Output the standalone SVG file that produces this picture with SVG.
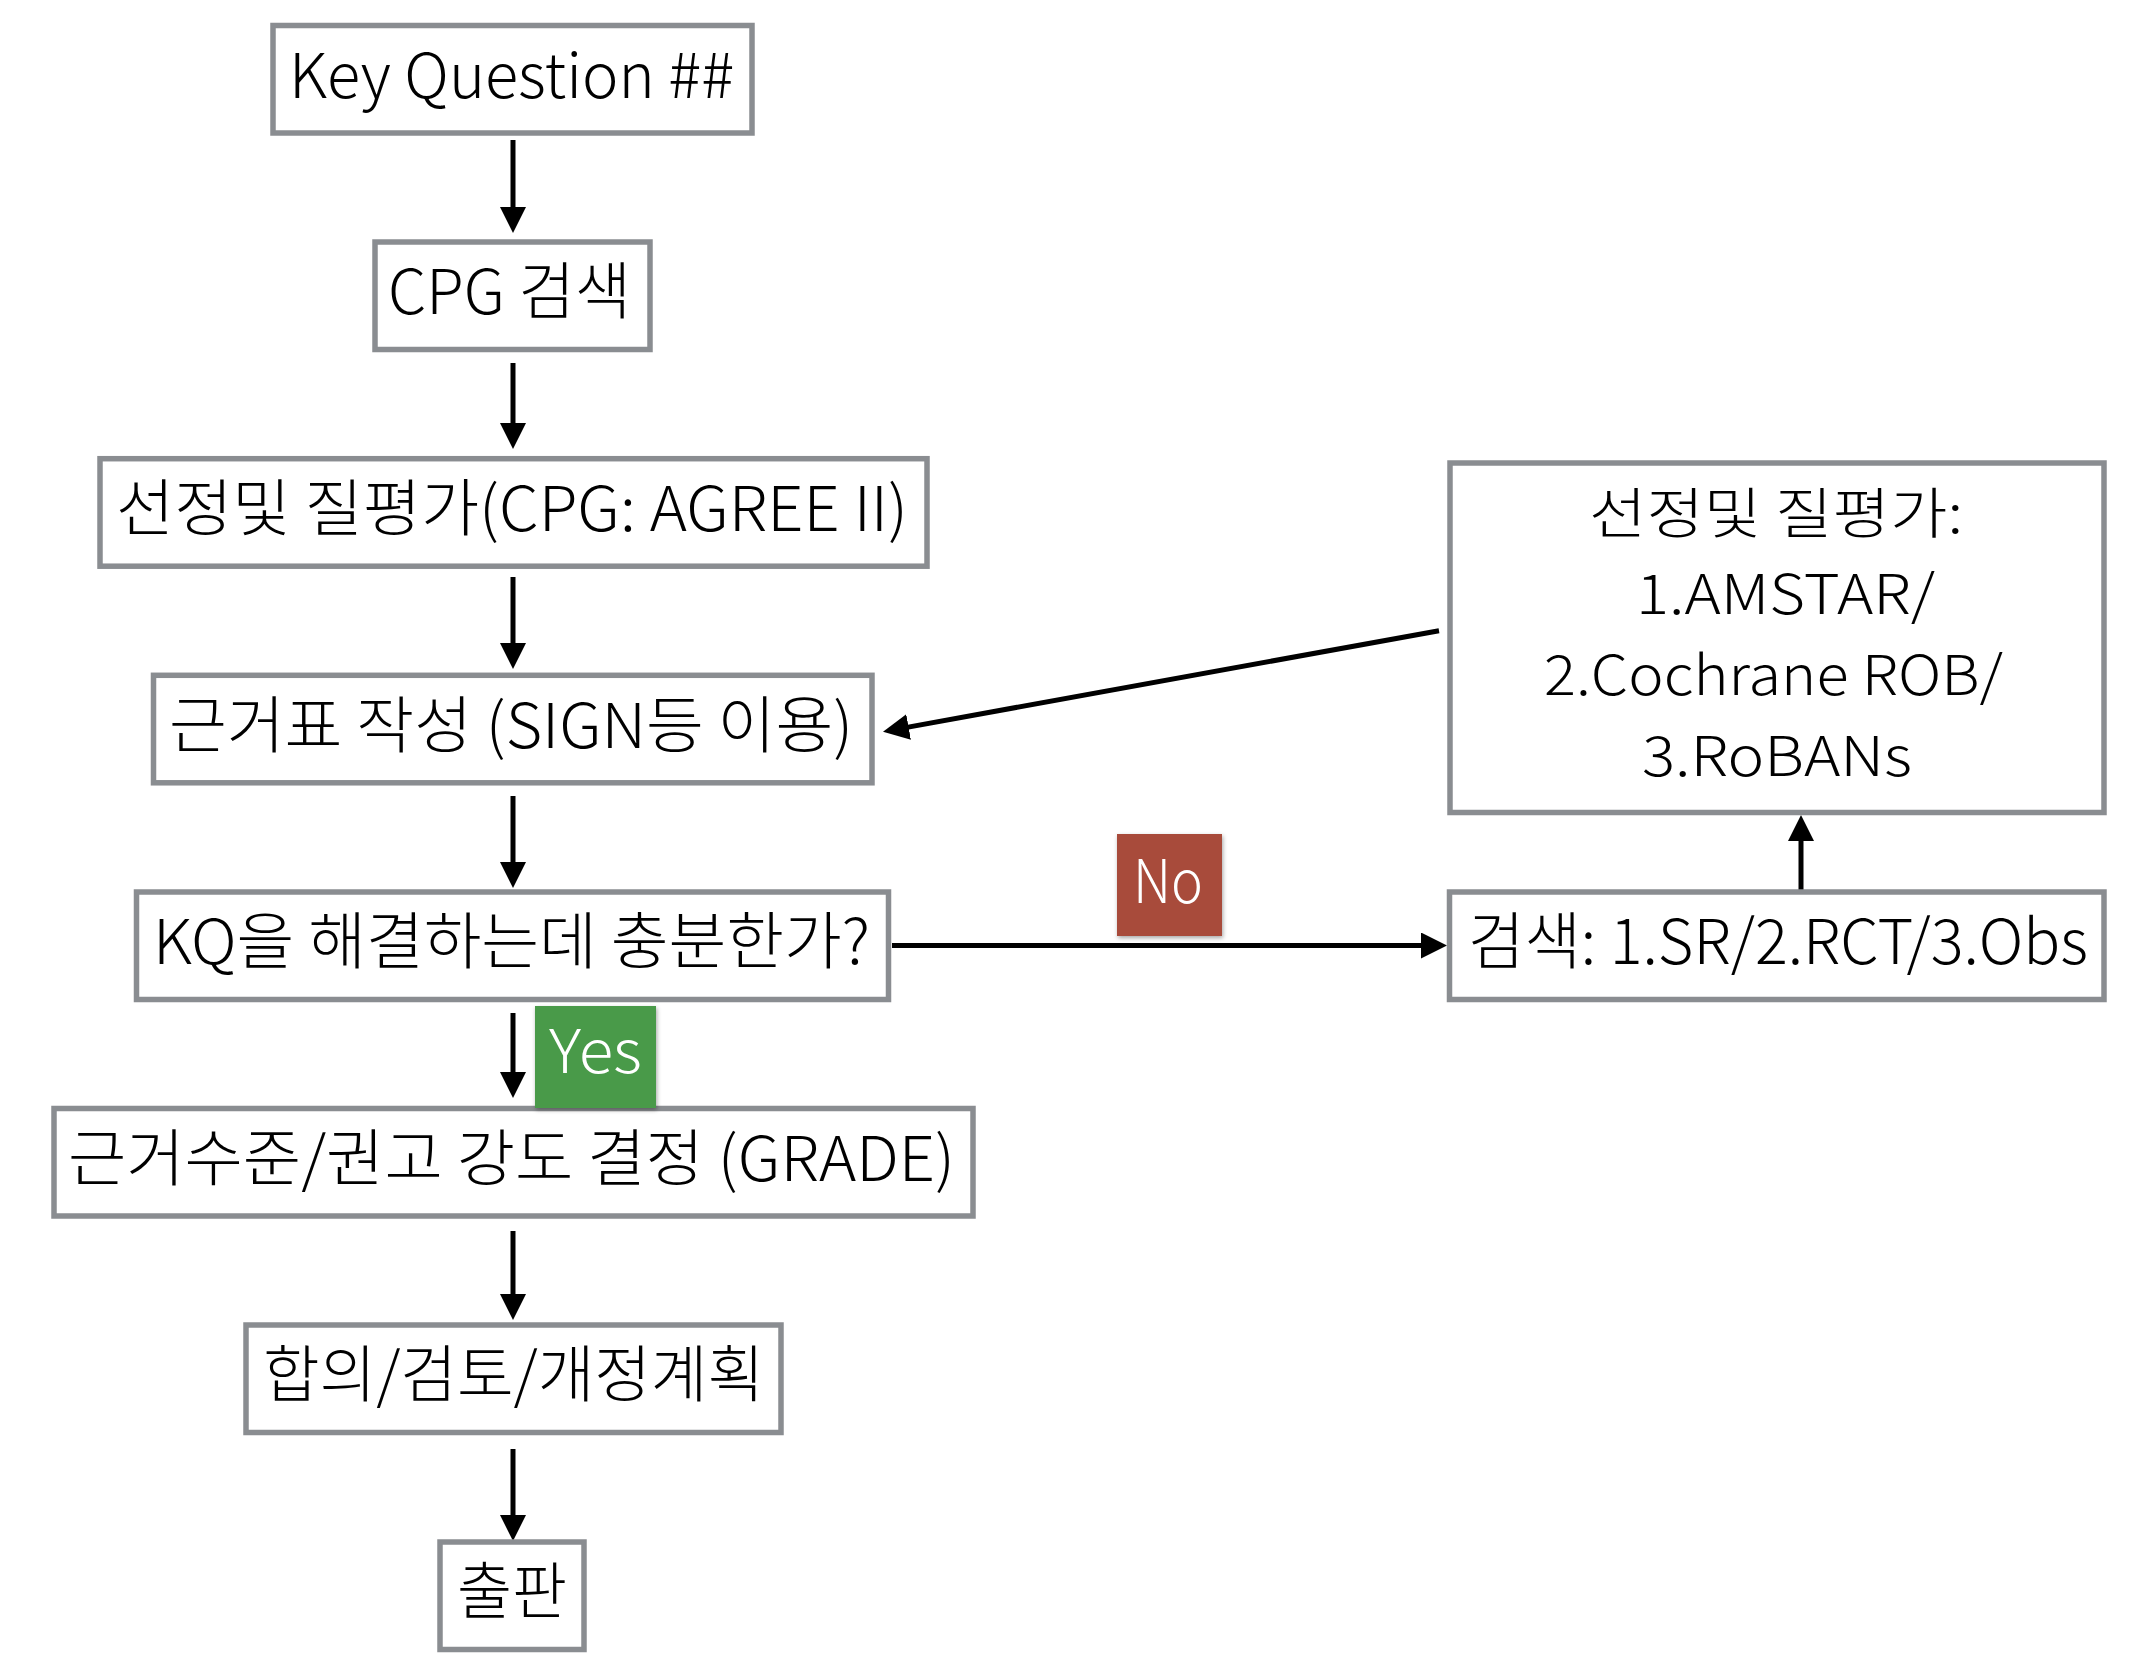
<svg xmlns="http://www.w3.org/2000/svg" width="2132" height="1670" viewBox="0 0 2132 1670">
<style>
.box{fill:#ffffff;stroke:#8a8d91;stroke-width:5.5}
.t{font-family:"Noto Sans CJK KR","Noto Sans",sans-serif;font-size:62px;font-weight:300;fill:#000000;text-anchor:start}
.t2{font-size:55px}
.lbl{font-family:"Noto Sans CJK KR","Noto Sans",sans-serif;font-size:60px;font-weight:300;fill:#ffffff}
.c{fill:none;stroke:#000000;stroke-width:5}
</style>
<defs>
<marker id="ah" viewBox="0 0 26 26" markerUnits="userSpaceOnUse" markerWidth="26" markerHeight="26" refX="6" refY="13" orient="auto">
<path d="M0,0 L26,13 L0,26 z" fill="#000000"/>
</marker>
<filter id="sh" x="-10%" y="-10%" width="130%" height="130%">
<feDropShadow dx="1" dy="2" stdDeviation="2" flood-color="#000000" flood-opacity="0.35"/>
</filter>
</defs>
<rect x="0" y="0" width="2132" height="1670" fill="#ffffff"/>

<g id="connectors">
<line class="c" x1="513" y1="140" x2="513" y2="213" marker-end="url(#ah)"/>
<line class="c" x1="513" y1="363" x2="513" y2="429" marker-end="url(#ah)"/>
<line class="c" x1="513" y1="577" x2="513" y2="649" marker-end="url(#ah)"/>
<line class="c" x1="513" y1="796" x2="513" y2="868" marker-end="url(#ah)"/>
<line class="c" x1="513" y1="1013" x2="513" y2="1078" marker-end="url(#ah)"/>
<line class="c" x1="513" y1="1231" x2="513" y2="1300" marker-end="url(#ah)"/>
<line class="c" x1="513" y1="1449" x2="513" y2="1521" marker-end="url(#ah)"/>
<line class="c" x1="892" y1="945.5" x2="1427" y2="945.5" marker-end="url(#ah)"/>
<line class="c" x1="1801" y1="890" x2="1801" y2="835" marker-end="url(#ah)"/>
<line class="c" x1="1439" y1="630.7" x2="902.7" y2="728.1" marker-end="url(#ah)"/>
</g>

<g id="n1">
<rect class="box" x="273" y="25.5" width="479" height="107.5"/>
<text class="t" x="289" y="97.5" textLength="445" lengthAdjust="spacingAndGlyphs">Key Question ##</text>
</g>
<g id="n2">
<rect class="box" x="375" y="242" width="275" height="107.5"/>
<text class="t" x="388" y="314" textLength="243" lengthAdjust="spacingAndGlyphs">CPG 검색</text>
</g>
<g id="n3">
<rect class="box" x="100" y="458.7" width="827" height="107.5"/>
<text class="t" x="116" y="530.5" textLength="792" lengthAdjust="spacingAndGlyphs">선정및 질평가(CPG: AGREE II)</text>
</g>
<g id="n4">
<rect class="box" x="153.5" y="675.3" width="718.5" height="107.5"/>
<text class="t" x="169" y="747.5" textLength="684" lengthAdjust="spacingAndGlyphs">근거표 작성 (SIGN등 이용)</text>
</g>
<g id="n5">
<rect class="box" x="136.5" y="892" width="752" height="107.5"/>
<text class="t" x="153" y="964" textLength="717" lengthAdjust="spacingAndGlyphs">KQ을 해결하는데 충분한가?</text>
</g>
<g id="n6">
<rect class="box" x="54" y="1108.5" width="919" height="107.5"/>
<text class="t" x="68" y="1180.5" textLength="887" lengthAdjust="spacingAndGlyphs">근거수준/권고 강도 결정 (GRADE)</text>
</g>
<g id="n7">
<rect class="box" x="246" y="1325" width="535" height="107.5"/>
<text class="t" x="263" y="1397" textLength="501" lengthAdjust="spacingAndGlyphs">합의/검토/개정계획</text>
</g>
<g id="n8">
<rect class="box" x="440" y="1542" width="144" height="107.5"/>
<text class="t" x="457" y="1614" textLength="110" lengthAdjust="spacingAndGlyphs">출판</text>
</g>
<g id="n9">
<rect class="box" x="1450" y="463" width="654" height="349.5"/>
<text class="t t2" x="1589" y="533" textLength="374" lengthAdjust="spacingAndGlyphs">선정및 질평가:</text>
<text class="t t2" x="1636" y="614" textLength="299" lengthAdjust="spacingAndGlyphs">1.AMSTAR/</text>
<text class="t t2" x="1544" y="695" textLength="459" lengthAdjust="spacingAndGlyphs">2.Cochrane ROB/</text>
<text class="t t2" x="1642" y="776" textLength="270" lengthAdjust="spacingAndGlyphs">3.RoBANs</text>
</g>
<g id="n10">
<rect class="box" x="1449.5" y="892" width="654.5" height="107.5"/>
<text class="t" x="1468" y="964" textLength="620" lengthAdjust="spacingAndGlyphs">검색: 1.SR/2.RCT/3.Obs</text>
</g>

<g id="label-no">
<rect x="1117" y="834" width="105" height="102" fill="#a84b3a" filter="url(#sh)"/>
<text class="lbl" x="1133" y="902.5" textLength="70" lengthAdjust="spacingAndGlyphs">No</text>
</g>
<g id="label-yes">
<rect x="535" y="1006" width="121" height="102" fill="#4a9a4a" filter="url(#sh)"/>
<text class="lbl" x="549" y="1073" textLength="93" lengthAdjust="spacingAndGlyphs">Yes</text>
</g>
</svg>
